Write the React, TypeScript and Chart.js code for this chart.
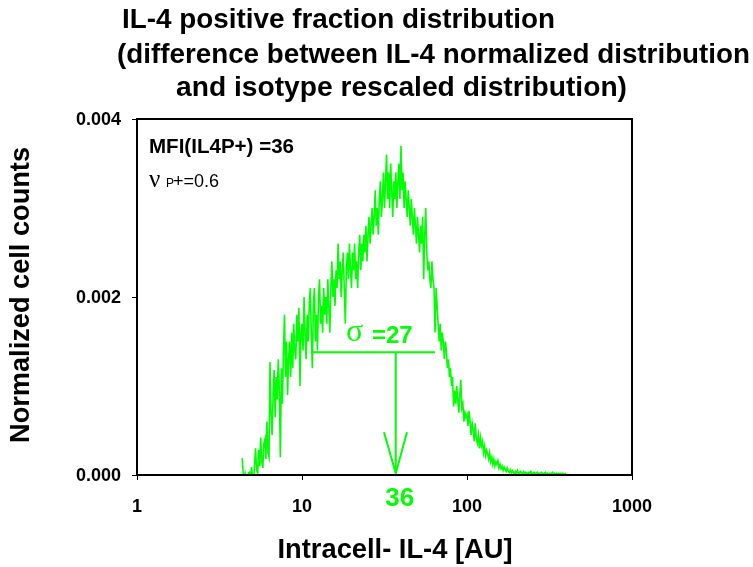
import React, { useEffect, useRef } from "react";
import { Chart, registerables } from "chart.js";

Chart.register(...registerables);

// Fluorescence intensity channels (AU), log-spaced bins
const intensity = [
  4.34, 4.4, 4.47, 4.53, 4.6, 4.66, 4.73, 4.8, 4.87, 4.94, 5.01, 5.09, 5.16, 5.23, 5.31, 5.39, 5.46, 5.54, 5.62, 5.71,
  5.79, 5.87, 5.96, 6.04, 6.13, 6.22, 6.31, 6.4, 6.49, 6.59, 6.68, 6.78, 6.88, 6.98, 7.08, 7.18, 7.29, 7.39, 7.5, 7.61,
  7.72, 7.83, 7.94, 8.06, 8.18, 8.29, 8.41, 8.54, 8.66, 8.79, 8.91, 9.04, 9.17, 9.31, 9.44, 9.58, 9.72, 9.86,
  10.0, 10.15, 10.29, 10.44, 10.59, 10.75, 10.9, 11.06, 11.22, 11.38, 11.55, 11.72, 11.89, 12.06, 12.23, 12.41, 12.59,
  12.77, 12.96, 13.14, 13.34, 13.53, 13.73, 13.92, 14.13, 14.33, 14.54, 14.75, 14.96, 15.18, 15.4, 15.62, 15.85, 16.08,
  16.31, 16.55, 16.79, 17.03, 17.28, 17.53, 17.78, 18.04, 18.3, 18.57, 18.84, 19.11, 19.39, 19.67, 19.95, 20.24, 20.54,
  20.83, 21.14, 21.44, 21.75, 22.07, 22.39, 22.71, 23.04, 23.38, 23.71, 24.06, 24.41, 24.76, 25.12, 25.48, 25.85, 26.23,
  26.61, 26.99, 27.38, 27.78, 28.18, 28.59, 29.01, 29.43, 29.85, 30.29, 30.73, 31.17, 31.62, 32.08, 32.55, 33.02, 33.5,
  33.98, 34.47, 34.98, 35.48, 36.0, 36.52, 37.05, 37.58, 38.13, 38.68, 39.24, 39.81, 40.39, 40.97, 41.57, 42.17, 42.78,
  43.4, 44.03, 44.67, 45.32, 45.97, 46.64, 47.32, 48.0, 48.7, 49.4, 50.12, 50.85, 51.58, 52.33, 53.09, 53.86, 54.64,
  55.43, 56.23, 57.05, 57.88, 58.72, 59.57, 60.43, 61.31, 62.19, 63.1, 64.01, 64.94, 65.88, 66.83, 67.8, 68.79, 69.78,
  70.79, 71.82, 72.86, 73.92, 74.99, 76.08, 77.18, 78.3, 79.43, 80.59, 81.75, 82.94, 84.14, 85.36, 86.6, 87.85, 89.13,
  90.42, 91.73, 93.06, 94.41, 95.78, 97.16, 98.57,
  100, 101.5, 102.9, 104.4, 105.9, 107.5, 109, 110.6, 112.2, 113.8, 115.5, 117.2, 118.9, 120.6, 122.3, 124.1, 125.9,
  127.7, 129.6, 131.4, 133.4, 135.3, 137.2, 139.2, 141.3, 143.3, 145.4, 147.5, 149.6, 151.8, 154, 156.2, 158.5, 160.8,
  163.1, 165.5, 167.9, 170.3, 172.8, 175.3, 177.8, 180.4, 183, 185.7, 188.4, 191.1, 193.9, 196.7, 199.5, 202.4, 205.4,
  208.3, 211.4, 214.4, 217.5, 220.7, 223.9, 227.1, 230.4, 233.8, 237.1, 240.6, 244.1, 247.6, 251.2, 254.8, 258.5, 262.3,
  266.1, 269.9, 273.8, 277.8, 281.8, 285.9, 290.1, 294.3, 298.5, 302.9, 307.3, 311.7, 316.2, 320.8, 325.5, 330.2, 335,
  339.8, 344.8, 349.8, 354.8, 360, 365.2, 370.5, 375.8, 381.3, 386.8, 392.4, 398.1,
];

// Normalized cell counts (IL-4 minus rescaled isotype)
const counts = [
  0.00019, 0.00002, -0.0001, 0.00001, -0.00006, -0.0002, 0.00002, 0.00003, -0.0001, 0.00009,
  0.0, -0.00005, 0.00012, 0.0003, 0.00005, 0.00002, 0.00028, 0.0001, 0.00042, 0.00015,
  0.00008, 0.00035, 0.0004, 0.00018, 0.0006, 0.00025, 0.0002, 0.00127, 0.0007, 0.00045,
  0.0009, 0.00118, 0.00065, 0.0011, 0.00085, 0.0013, 0.00095, 0.0002, 0.0012, 0.0008,
  0.0014, 0.0018, 0.0011, 0.0015, 0.0009, 0.0013, 0.0015, 0.0011, 0.0016, 0.0012,
  0.0017, 0.0014, 0.0013, 0.0018, 0.0015, 0.00188, 0.001, 0.0016,
  0.0017, 0.0014, 0.002, 0.0016, 0.0013, 0.0018, 0.0015, 0.0019, 0.0021, 0.0016,
  0.0012, 0.0019, 0.0021, 0.0015, 0.0018, 0.0014, 0.002, 0.0022, 0.0017, 0.0019,
  0.0016, 0.0021, 0.0018, 0.002, 0.0017, 0.0022, 0.0019, 0.0016, 0.0021, 0.0024,
  0.002, 0.0022, 0.0019, 0.0023, 0.0021, 0.0026, 0.0022, 0.0024, 0.002, 0.0023,
  0.0025, 0.0021, 0.0017, 0.0023, 0.0025, 0.0022, 0.0026, 0.0023, 0.0021, 0.0025,
  0.0023, 0.0026, 0.0022, 0.0024, 0.0021, 0.0025, 0.0027, 0.0023, 0.0026, 0.0024,
  0.0027, 0.0025, 0.0028, 0.0024, 0.0027, 0.0029, 0.0026, 0.0028, 0.003, 0.0027,
  0.0029, 0.0032, 0.0028, 0.003, 0.0027, 0.0031, 0.0033, 0.0029, 0.0031, 0.0034,
  0.003, 0.0033, 0.0036, 0.0031, 0.0034, 0.003, 0.0035, 0.0032, 0.0029, 0.0033,
  0.0031, 0.0034, 0.003, 0.0033, 0.0035, 0.0031, 0.0037, 0.0032, 0.0034, 0.003,
  0.0033, 0.0031, 0.0029, 0.0032, 0.003, 0.0028, 0.0031, 0.0029, 0.0027, 0.003,
  0.0028, 0.0026, 0.0029, 0.0027, 0.0025, 0.0028, 0.0026, 0.0029, 0.0022, 0.0027,
  0.003, 0.0025, 0.0023, 0.0024, 0.0022, 0.0021, 0.0024, 0.0022, 0.0021, 0.0016,
  0.0021, 0.0019, 0.0017, 0.0015, 0.0017, 0.0014, 0.0016, 0.0015, 0.0013, 0.0015,
  0.0014, 0.0012, 0.0013, 0.0011, 0.0012, 0.001, 0.0011, 0.00077, 0.00095, 0.0008,
  0.001, 0.00085, 0.0007, 0.0009, 0.00107, 0.00075, 0.0008, 0.0006, 0.0007, 0.00065,
  0.00068, 0.00055, 0.00072, 0.0006, 0.00045, 0.00058, 0.0005, 0.00038, 0.00058, 0.00042,
  0.00036, 0.00045, 0.0003, 0.00042, 0.00033, 0.00038, 0.00025, 0.00032, 0.00022, 0.00028,
  0.00024, 0.00018, 0.00025, 0.00015, 0.0002, 0.00012, 0.00018, 0.0001, 0.00015, 0.00012,
  0.00016, 0.00008, 0.00012, 0.00007, 0.0001, 0.00005, 0.00009, 0.00006, 0.00004, 0.00008,
  0.00005, 0.00003, 0.00006, 0.00002, 0.00005, 0.00003, 0.00001, 0.00004, 0.00002, 0.00005,
  0.00001, 0.00003, 0.00004, 0.00001, 0.00002, 0.00004, 0.00001, 0.00003, 0.00002, 0.00001,
  0.00003, 0.00002, 0.00004, 0.00001, 0.00002, 0.00003, 0.00001, 0.00002, 0.00003, 0.00001,
  0.00002, 0.00001, 0.00003, 0.00002, 0.00001, 0.00002, 0.00003, 0.00001, 0.00002, 0.00001,
  0.00002, 0.00001, 0.00002, 0.00003, 0.00001, 0.00002, 0.00001, 0.00002, 0.00001, 0.00002,
  0.00001, 0.00002, 0.00001, 0.00002, 0.00001, 0.00001, 0.00002,
];

const xTickValues = [1, 10, 100, 1000];
const xTickLabels = ["1", "10", "100", "1000"];
const yTickValues = [0, 0.002, 0.004];
const yTickLabels = ["0.000", "0.002", "0.004"];

// Annotation values
const mfiLabel = "36";
const arrowX = 37;
const sigmaLineX = [11.5, 64];
const sigmaLineY = 0.00138;
const arrowHeadX = [31.4, 43.3];
const arrowHeadY = 0.00048;
const arrowTipY = 0.00002;

const titleLines = [
  "IL-4 positive fraction distribution",
  "(difference between IL-4 normalized distribution",
  "and isotype rescaled distribution)",
];
const xTitle = "Intracell- IL-4 [AU]";
const yTitle = "Normalized cell counts";
const mfiText = "MFI(IL4P+) =36";

const GREEN = "#00ff00";
const SANS = '"Liberation Sans", Arial, sans-serif';
const SERIF = '"Liberation Serif", "DejaVu Serif", serif';

function fitText(
  ctx: CanvasRenderingContext2D,
  text: string,
  font: string,
  x: number,
  y: number,
  width: number,
  align: "left" | "center" | "right",
  color: string,
  rotate = 0
) {
  ctx.save();
  ctx.font = font;
  ctx.fillStyle = color;
  ctx.textBaseline = "middle";
  ctx.textAlign = "left";
  const w = ctx.measureText(text).width;
  const s = width > 0 ? width / w : 1;
  ctx.translate(x, y);
  if (rotate) ctx.rotate(rotate);
  ctx.scale(s, 1);
  const off = align === "center" ? -w / 2 : align === "right" ? -w : 0;
  ctx.fillText(text, off, 0);
  ctx.restore();
}

const decorPlugin = {
  id: "decor",
  afterDatasetsDraw(chart: any) {
    const { ctx, chartArea: a } = chart;
    ctx.save();
    ctx.strokeStyle = "#000";
    ctx.lineWidth = 2;
    ctx.strokeRect(a.left, a.top, a.right - a.left, a.bottom - a.top);
    ctx.restore();
  },
  afterDraw(chart: any) {
    const { ctx } = chart;
    const xs = chart.scales.x;
    const ys = chart.scales.y;
    // titles
    const tf = `bold 27px ${SANS}`;
    fitText(ctx, titleLines[0], tf, 122, 21, 433, "left", "#000");
    fitText(ctx, titleLines[1], tf, 117, 56, 633, "left", "#000");
    fitText(ctx, titleLines[2], tf, 176, 89, 451, "left", "#000");
    // axis titles
    fitText(ctx, xTitle, `bold 27px ${SANS}`, 395, 551, 235, "center", "#000");
    fitText(ctx, yTitle, `bold 27px ${SANS}`, 22, 295, 296, "center", "#000", -Math.PI / 2);
    // tick labels
    ctx.save();
    ctx.font = `bold 18px ${SANS}`;
    ctx.fillStyle = "#000";
    ctx.textBaseline = "middle";
    ctx.textAlign = "right";
    yTickValues.forEach((v, i) => {
      ctx.fillText(yTickLabels[i], 121, ys.getPixelForValue(v) + 1);
    });
    ctx.textAlign = "center";
    xTickValues.forEach((v, i) => {
      ctx.fillText(xTickLabels[i], xs.getPixelForValue(v), 507);
    });
    ctx.restore();
    // MFI label under arrow
    fitText(ctx, mfiLabel, `bold 26px ${SANS}`, xs.getPixelForValue(arrowX) + 4, 499, 0, "center", GREEN);
    // sigma label
    fitText(ctx, "σ", `32px ${SERIF}`, 346, 333, 0, "left", GREEN);
    fitText(ctx, "=27", `bold 24px ${SANS}`, 372, 336, 0, "left", GREEN);
    // annotations top-left
    fitText(ctx, mfiText, `bold 20px ${SANS}`, 149, 147, 145, "left", "#000");
    fitText(ctx, "ν", `25px ${SERIF}`, 149, 180, 0, "left", "#000");
    fitText(ctx, "P", `12px ${SANS}`, 166, 184, 0, "left", "#000");
    fitText(ctx, "+=0.6", `18px ${SANS}`, 173, 182, 0, "left", "#000");
  },
};

export default function App() {
  const ref = useRef<HTMLCanvasElement | null>(null);
  useEffect(() => {
    if (!ref.current) return;
    const n = Math.min(intensity.length, counts.length);
    const main = [] as { x: number; y: number }[];
    for (let i = 0; i < n; i++) main.push({ x: intensity[i], y: counts[i] });
    const line = (data: { x: number; y: number }[]) => ({
      data,
      borderColor: GREEN,
      backgroundColor: GREEN,
      borderWidth: 2,
      pointRadius: 0,
      tension: 0,
      fill: false,
    });
    const chart = new Chart(ref.current, {
      type: "line",
      data: {
        datasets: [
          { ...line(main), borderWidth: 1.6 },
          line([
            { x: sigmaLineX[0], y: sigmaLineY },
            { x: sigmaLineX[1], y: sigmaLineY },
          ]),
          line([
            { x: arrowX, y: sigmaLineY },
            { x: arrowX, y: arrowTipY },
          ]),
          line([
            { x: arrowHeadX[0], y: arrowHeadY },
            { x: arrowX, y: arrowTipY },
            { x: arrowHeadX[1], y: arrowHeadY },
          ]),
        ],
      },
      options: {
        responsive: false,
        animation: false,
        devicePixelRatio: 1,
        layout: { padding: { left: 132, top: 119, right: 121, bottom: 87 } },
        plugins: { legend: { display: false }, tooltip: { enabled: false }, title: { display: false } },
        scales: {
          x: {
            type: "logarithmic",
            min: 1,
            max: 1000,
            afterBuildTicks: (s: any) => {
              s.ticks = xTickValues.map((v) => ({ value: v }));
            },
            ticks: { display: false },
            grid: { display: true, drawOnChartArea: false, drawTicks: true, tickLength: 5, color: "#000", lineWidth: 1 },
            border: { display: false },
          },
          y: {
            type: "linear",
            min: 0,
            max: 0.004,
            afterBuildTicks: (s: any) => {
              s.ticks = yTickValues.map((v) => ({ value: v }));
            },
            ticks: { display: false },
            grid: { display: true, drawOnChartArea: false, drawTicks: true, tickLength: 5, color: "#000", lineWidth: 1 },
            border: { display: false },
          },
        },
      } as any,
      plugins: [decorPlugin],
    });
    return () => chart.destroy();
  }, []);
  return (
    <div style={{ position: "absolute", left: 0, top: 0, width: 753, height: 567, background: "#fff" }}>
      <canvas ref={ref} width={753} height={567} />
    </div>
  );
}
